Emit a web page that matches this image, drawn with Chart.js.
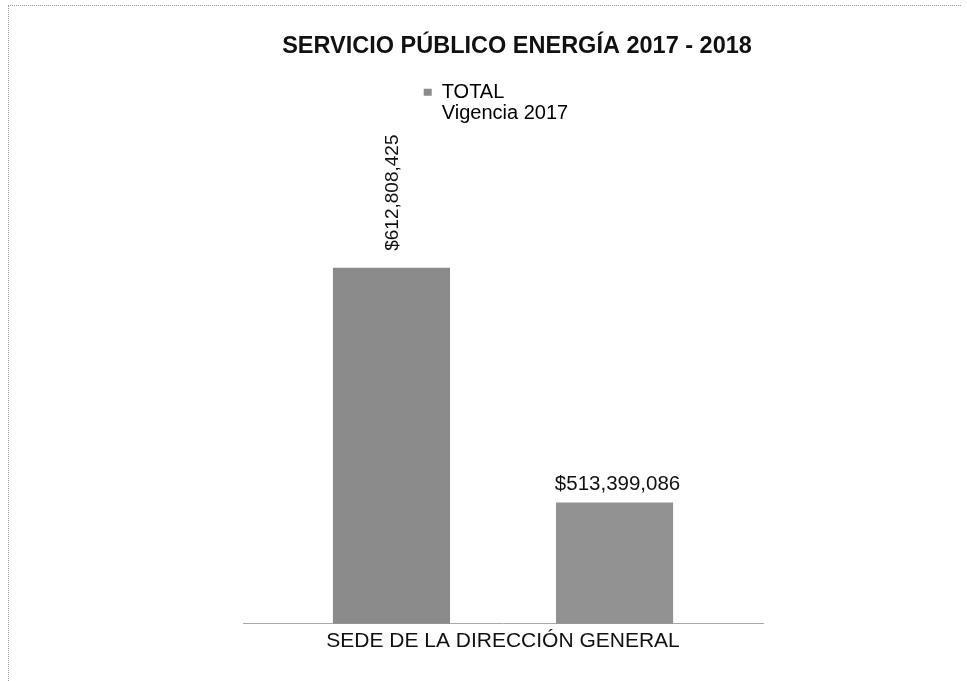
<!DOCTYPE html>
<html>
<head>
<meta charset="utf-8">
<script src="https://cdn.jsdelivr.net/npm/chart.js@4.4.1/dist/chart.umd.min.js"></script>
<style>
  html, body { margin: 0; padding: 0; background: #fff; }
  #wrap { position: relative; width: 967px; height: 681px; }
  #marco { position: absolute; left: 8px; top: 5px; right: 6px; bottom: 0;
           border-left: 1px dotted #9a9a9a; border-top: 1px dotted #9a9a9a; pointer-events: none; }
</style>
</head>
<body>
<div id="wrap">
  <canvas id="grafico" width="967" height="681"></canvas>
  <div id="marco"></div>
</div>
<script>
// Datos del grafico
const categorias = ['SEDE DE LA DIRECCIÓN GENERAL']
const leyenda = ['TOTAL', 'Vigencia 2017']
const vigencia2017 = [612808425]
const vigencia2018 = [513399086]
const tituloTexto = 'SERVICIO PÚBLICO ENERGÍA 2017 - 2018'

const fuente = "'Liberation Sans', Arial, sans-serif"

// Etiquetas de valor sobre cada barra
const etiquetasValor = {
    id: 'etiquetasValor',
    afterLayout(chart) {
        // correr la leyenda un poco a la derecha, como en el original,
        // y dejar espacio para la segunda linea del texto
        chart.legend.left += 13
        chart.legend.right += 13
        chart.legend.bottom += 18
    },
    afterDatasetsDraw(chart) {
        const ctx = chart.ctx
        ctx.save()
        ctx.fillStyle = '#111'
        chart.data.datasets.forEach((ds, i) => {
            const meta = chart.getDatasetMeta(i)
            meta.data.forEach((bar, j) => {
                const texto = '$' + ds.data[j].toLocaleString('en-US')
                if (i === 0) {
                    ctx.save()
                    ctx.font = '19px ' + fuente
                    ctx.translate(bar.x + 1, bar.y - 17)
                    ctx.rotate(-Math.PI / 2)
                    ctx.textAlign = 'left'
                    ctx.textBaseline = 'middle'
                    ctx.fillText(texto, 0, 0)
                    ctx.restore()
                } else {
                    ctx.font = '20.5px ' + fuente
                    ctx.textAlign = 'center'
                    ctx.textBaseline = 'alphabetic'
                    ctx.fillText(texto, bar.x + 3, bar.y - 12)
                }
            })
        })
        ctx.restore()
    }
}

const ctx = document.querySelector('#grafico').getContext('2d')

new Chart(ctx, {
    type: 'bar',
    data: {
        labels: categorias,
        datasets: [
            {
                label: leyenda.join(' '),
                data: vigencia2017,
                backgroundColor: '#8b8b8b',
                categoryPercentage: 0.858,
                barPercentage: 0.525
            },
            {
                label: 'Vigencia 2018',
                data: vigencia2018,
                backgroundColor: '#929292',
                categoryPercentage: 0.858,
                barPercentage: 0.525
            }
        ]
    },
    options: {
        responsive: false,
        animation: false,
        layout: { padding: { left: 67, right: 0, top: 0, bottom: 22 } },
        plugins: {
            title: {
                display: true,
                text: tituloTexto,
                color: '#111',
                font: { family: fuente, size: 23.5, weight: 'bold' },
                padding: { top: 32, bottom: 0 }
            },
            legend: {
                display: true,
                labels: {
                    color: '#111',
                    font: { family: fuente, size: 20, lineHeight: 1.05 },
                    boxWidth: 8,
                    boxHeight: 7,
                    padding: 22,
                    generateLabels: (chart) => [{
                        text: [leyenda[0], leyenda[1]],
                        fillStyle: chart.data.datasets[0].backgroundColor,
                        strokeStyle: chart.data.datasets[0].backgroundColor,
                        lineWidth: 0,
                        datasetIndex: 0
                    }]
                }
            },
            tooltip: { enabled: false }
        },
        scales: {
            x: {
                grid: { display: false, drawTicks: false },
                border: { display: true, color: '#aaa', width: 1, dash: [2, 3] },
                ticks: { color: '#111', padding: 5, font: { family: fuente, size: 21 } }
            },
            y: {
                position: 'left',
                min: 462000000,
                max: 678700000,
                grid: { display: false, drawTicks: false },
                border: { display: false },
                ticks: { display: false },
                afterFit: (scale) => { scale.width = 176 }
            },
            y2: {
                position: 'right',
                grid: { display: false, drawTicks: false },
                border: { display: false },
                ticks: { display: false },
                afterFit: (scale) => { scale.width = 204 }
            }
        }
    },
    plugins: [etiquetasValor]
})
</script>
</body>
</html>
